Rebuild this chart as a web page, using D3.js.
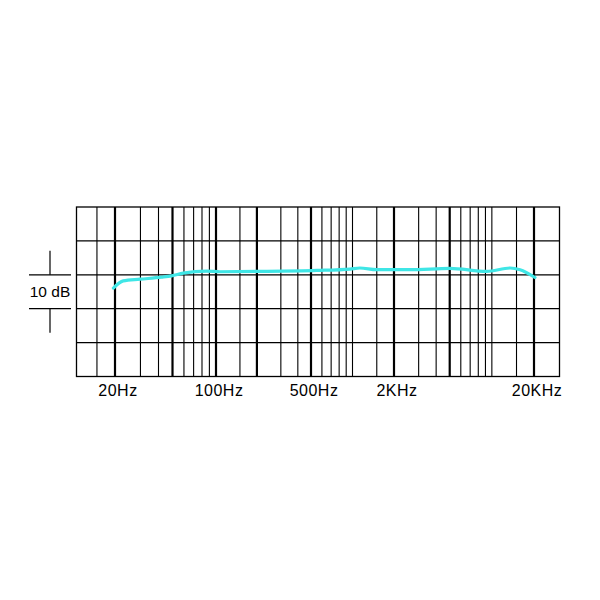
<!DOCTYPE html>
<html>
<head>
<meta charset="utf-8">
<script src="https://cdn.jsdelivr.net/npm/d3@7"></script>
<style>
  body { margin: 0; background: #fff; }
  text { font-family: "Liberation Sans", Arial, sans-serif; fill: #000; }
</style>
</head>
<body>
<svg id="chart" width="600" height="600"></svg>
<script>
// --------------------
// Data
// --------------------
// Response curve (Hz, dB)
const curveFreq = [19.5, 22.8, 29.8, 42, 49.3, 59.4, 86, 107, 211, 550, 960, 1130, 1500, 2600, 5020, 9170, 13480, 15890, 20330];
const curveDb   = [-3.9, -1.8, -1.3, -0.7, -0.3, 0.5, 1.1, 0.9, 1.0, 1.3, 1.7, 2.0, 1.5, 1.5, 1.9, 1.0, 2.0, 1.5, -0.8];

// Vertical grid lines
const majorFreq = [20, 50, 100, 200, 500, 2000, 5000, 20000];
const minorFreq = [15, 30, 40, 60, 70, 80, 90, 150, 300, 400, 600, 700, 800, 900, 1000, 1500,
                   3000, 4000, 6000, 7000, 8000, 9000, 10000, 15000];

// Horizontal grid lines (dB)
const dbLines = [-20, -10, 0, 10];

// Tick labels
const tickFreq   = [20, 100, 500, 2000, 20000];
const tickLabels = ["20Hz", "100Hz", "500Hz", "2KHz", "20KHz"];

// --------------------
// Layout
// --------------------
const frame = { left: 76.5, right: 559.5, top: 207, bottom: 376.5 };

const svg = d3.select("#chart");

// the printed grid is not a perfectly even log scale, so pin it at the labelled frequencies
const x = d3.scaleLog().domain(tickFreq).range([115, 216, 311, 394, 534]);
const y = d3.scaleLinear().domain([-30, 20]).range([frame.bottom, frame.top]);

// --------------------
// Grid
// --------------------
svg.selectAll(".hline")
  .data(dbLines)
  .enter()
  .append("line")
  .attr("x1", frame.left).attr("x2", frame.right)
  .attr("y1", d => y(d)).attr("y2", d => y(d))
  .attr("stroke", "#000")
  .attr("stroke-width", 1.2);

svg.selectAll(".minor")
  .data(minorFreq)
  .enter()
  .append("line")
  .attr("x1", d => x(d)).attr("x2", d => x(d))
  .attr("y1", frame.top).attr("y2", frame.bottom)
  .attr("stroke", "#000")
  .attr("stroke-width", 1.1);

svg.selectAll(".major")
  .data(majorFreq)
  .enter()
  .append("line")
  .attr("x1", d => x(d)).attr("x2", d => x(d))
  .attr("y1", frame.top).attr("y2", frame.bottom)
  .attr("stroke", "#000")
  .attr("stroke-width", 2.2);

svg.append("rect")
  .attr("x", frame.left).attr("y", frame.top)
  .attr("width", frame.right - frame.left)
  .attr("height", frame.bottom - frame.top)
  .attr("fill", "none")
  .attr("stroke", "#000")
  .attr("stroke-width", 1.3);

// --------------------
// Curve
// --------------------
const points = curveFreq.map((f, i) => [f, curveDb[i]]);

const line = d3.line()
  .x(d => x(d[0]))
  .y(d => y(d[1]))
  .curve(d3.curveMonotoneX);

svg.append("path")
  .datum(points)
  .attr("d", line)
  .attr("fill", "none")
  .attr("stroke", "#3fe6e6")
  .attr("stroke-width", 3.2)
  .attr("stroke-linecap", "round");

// --------------------
// Labels
// --------------------
svg.selectAll(".tick-label")
  .data(tickFreq)
  .enter()
  .append("text")
  .attr("x", d => x(d) + 3)
  .attr("y", 396)
  .attr("text-anchor", "middle")
  .attr("font-size", 16)
  .attr("letter-spacing", 0.5)
  .text((d, i) => tickLabels[i]);

// 10 dB scale marker
const mark = svg.append("g");
[0, -10].forEach(v => {
  mark.append("line")
    .attr("x1", 29).attr("x2", 71)
    .attr("y1", y(v)).attr("y2", y(v))
    .attr("stroke", "#000").attr("stroke-width", 1.2);
});
mark.append("line")
  .attr("x1", 50).attr("x2", 50)
  .attr("y1", y(0) - 24).attr("y2", y(0))
  .attr("stroke", "#000").attr("stroke-width", 1.2);
mark.append("line")
  .attr("x1", 50).attr("x2", 50)
  .attr("y1", y(-10)).attr("y2", y(-10) + 24)
  .attr("stroke", "#000").attr("stroke-width", 1.2);
mark.append("text")
  .attr("x", 50)
  .attr("y", 297)
  .attr("text-anchor", "middle")
  .attr("font-size", 15.5)
  .text("10 dB");
</script>
</body>
</html>
